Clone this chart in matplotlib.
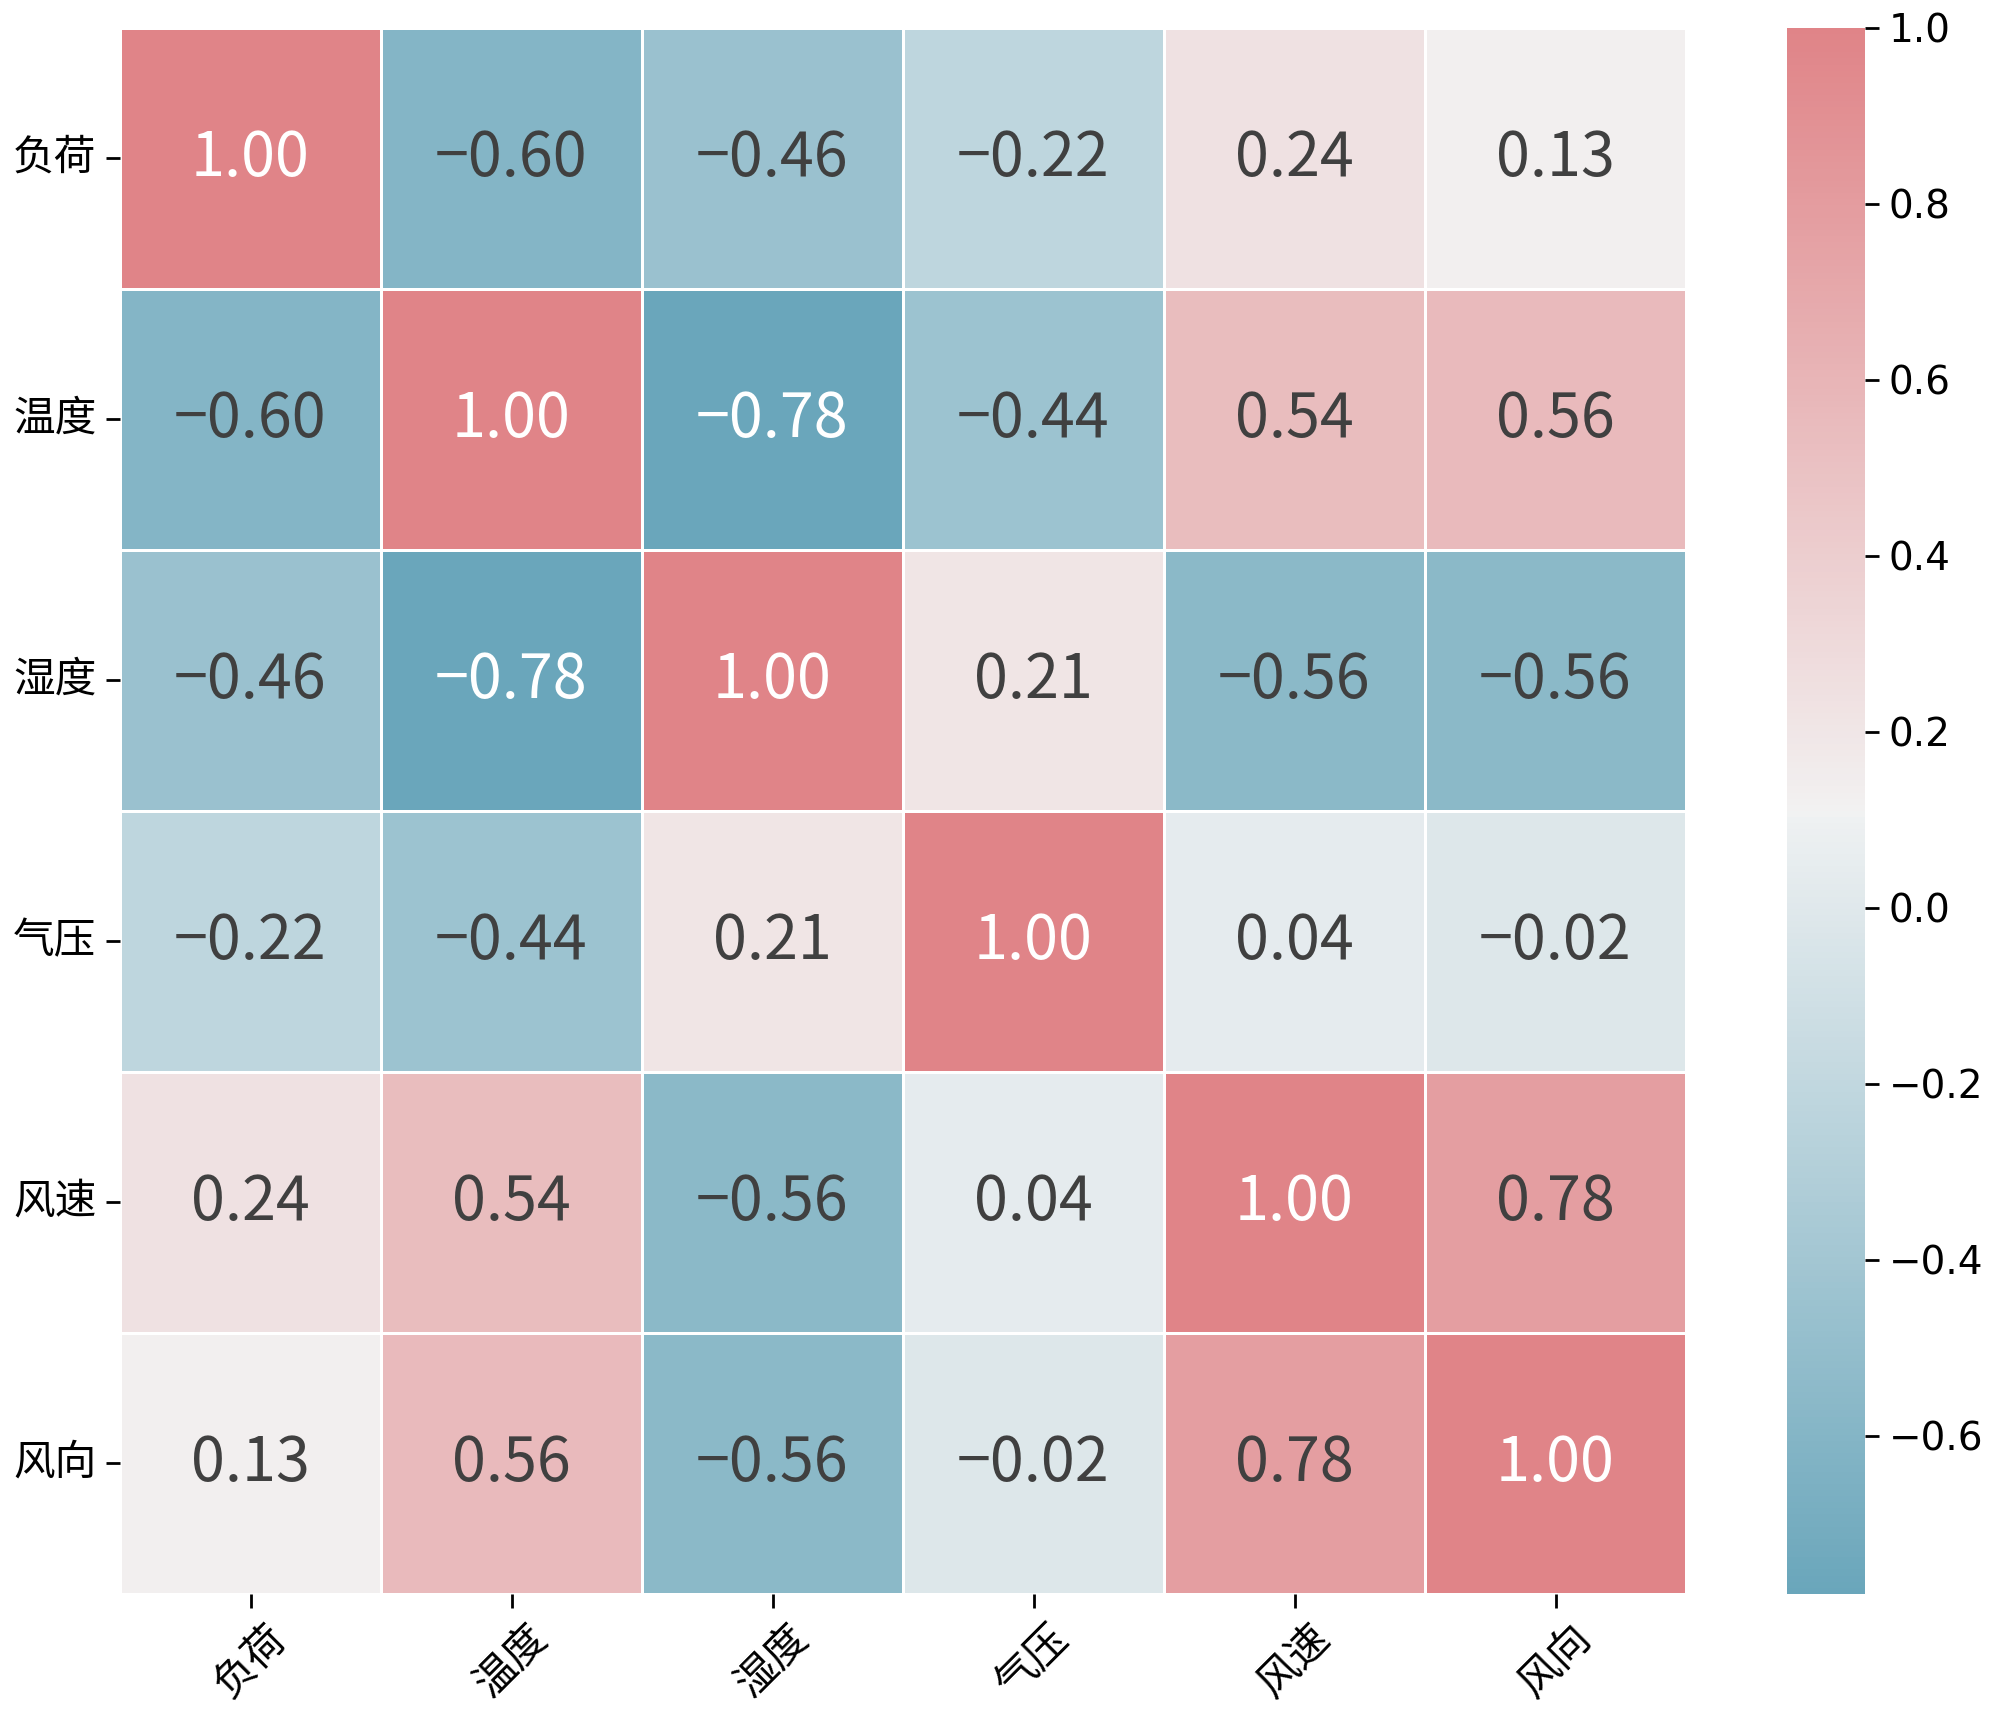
import numpy as np
import pandas as pd
import matplotlib
matplotlib.use("Agg")
import matplotlib.pyplot as plt
import seaborn as sns

labels = ["负荷", "温度", "湿度", "气压", "风速", "风向"]
row_load = [1.00, -0.60, -0.46, -0.22, 0.24, 0.13]
row_temp = [-0.60, 1.00, -0.78, -0.44, 0.54, 0.56]
row_hum = [-0.46, -0.78, 1.00, 0.21, -0.56, -0.56]
row_pres = [-0.22, -0.44, 0.21, 1.00, 0.04, -0.02]
row_wspd = [0.24, 0.54, -0.56, 0.04, 1.00, 0.78]
row_wdir = [0.13, 0.56, -0.56, -0.02, 0.78, 1.00]

corr = pd.DataFrame([row_load, row_temp, row_hum, row_pres, row_wspd, row_wdir],
                    index=labels, columns=labels)

plt.rcParams['font.family'] = ['Noto Sans CJK SC', 'DejaVu Sans']
plt.rcParams['axes.unicode_minus'] = True

fig = plt.figure(figsize=(10, 8.615), dpi=200)
ax = fig.add_axes([0.06, 0.0749, 0.783, 0.9089])
cax = fig.add_axes([0.8935, 0.0749, 0.039, 0.9089])

cmap = sns.diverging_palette(220, 10, s=60, l=65, as_cmap=True)
sns.heatmap(corr, ax=ax, cbar_ax=cax, cmap=cmap, annot=True, fmt=".2f",
            linewidths=0.5, linecolor="white",
            annot_kws={"fontsize": 22})

for t in ax.texts:
    s = t.get_text().replace("-", "\u2212")
    t.set_text(s)
    c = matplotlib.colors.to_rgb(t.get_color())
    if c[0] < 0.5:
        t.set_color("#404040")

ax.set_xticklabels(labels, rotation=45, fontsize=15)
ax.set_yticklabels(labels, rotation=0, fontsize=15)
ax.tick_params(axis='both', length=5, width=1)
cax.tick_params(labelsize=14, length=5, width=1)
for lab in cax.get_yticklabels():
    lab.set_fontfamily('DejaVu Sans')

fig.savefig("out.png", dpi=200)
